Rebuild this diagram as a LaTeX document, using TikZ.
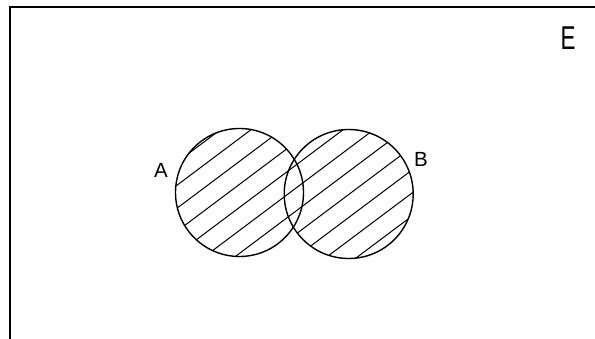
\documentclass[tikz,border=0pt]{standalone}
\usepackage{fontspec}
\setmainfont{Liberation Sans}
\begin{document}
\begin{tikzpicture}[x=1pt,y=-1pt,
  frameline/.style={line width=1.7pt},
  setline/.style={line width=1.4pt},
  hatchline/.style={line width=1.0pt},
  setlabel/.style={inner sep=0pt,font=\fontsize{20.5}{20.5}\selectfont}]
\useasboundingbox (0,0) rectangle (595,339);
% frame (top and left edges visible)
\coordinate (fbl) at (10,339);
\coordinate (ftl) at (10,7);
\coordinate (ftr) at (596,7);
\draw[frameline] (fbl) -- (ftl) -- (ftr);
% centres
\coordinate (ca) at (239.5,192.5);
\coordinate (cb) at (348.7,194);
% hatching of the union
\begin{scope}
  \clip (ca) circle[radius=64pt] (cb) circle[radius=64.5pt];
  \foreach \c in {295,318,341,364,387,410,433,456,479,502,525}{
    \draw[hatchline] (150,{\c-112.5}) -- (450,{\c-337.5});
  }
\end{scope}
\draw[setline] (ca) circle[radius=64pt];
\draw[setline] (cb) circle[radius=64.5pt];
% labels
\node[setlabel] (la) at (161,170.5) {A};
\node[setlabel] (lb) at (421,159.5) {B};
\node[setlabel,font=\fontsize{33}{33}\selectfont,xscale=0.68] (le) at (568,38.5) {E};
\end{tikzpicture}
\end{document}
